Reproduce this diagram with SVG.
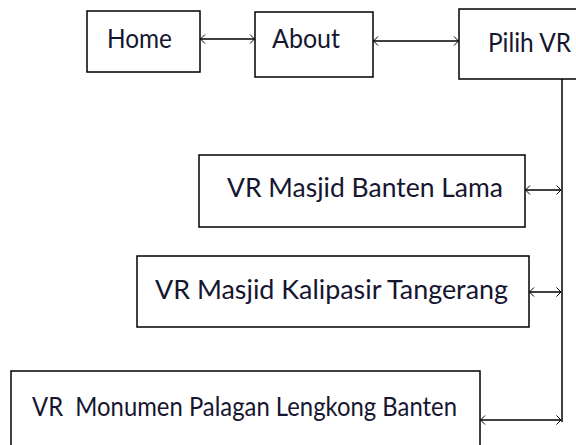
<svg xmlns="http://www.w3.org/2000/svg" width="576" height="445" viewBox="0 0 576 445">
<style>
.box{fill:#fff;stroke:#000;stroke-width:1.5}
.t{font-family:Lato,"Open Sans","Liberation Sans",sans-serif;font-size:27.5px;fill:#161630}
.c{stroke:#000;stroke-width:1.5;fill:none}
</style>
<defs>
<marker id="ah" viewBox="-7 -6 8 12" markerWidth="8" markerHeight="12" refX="0" refY="0" orient="auto-start-reverse" markerUnits="userSpaceOnUse">
<path d="M-4.5,-4.5 L0,0 L-4.5,4.5" fill="none" stroke="#000" stroke-width="1"/>
</marker>
</defs>
<rect width="576" height="445" fill="#fff"/>
<g id="home">
<rect class="box" x="87" y="11" width="113" height="61"/>
<text class="t" x="107" y="48" textLength="65" lengthAdjust="spacingAndGlyphs">Home</text>
</g>
<g id="about">
<rect class="box" x="255" y="12" width="118" height="65"/>
<text class="t" x="272" y="48" textLength="68" lengthAdjust="spacingAndGlyphs">About</text>
</g>
<g id="pilih-vr">
<rect class="box" x="459" y="9" width="125" height="70"/>
<text class="t" x="488" y="52" textLength="83" lengthAdjust="spacingAndGlyphs">Pilih VR</text>
</g>
<g id="vr-banten-lama">
<rect class="box" x="199" y="155" width="326" height="72"/>
<text class="t" x="227" y="197" textLength="276" lengthAdjust="spacingAndGlyphs">VR Masjid Banten Lama</text>
</g>
<g id="vr-kalipasir">
<rect class="box" x="137" y="256" width="392" height="71"/>
<text class="t" x="155" y="299" textLength="353" lengthAdjust="spacingAndGlyphs">VR Masjid Kalipasir Tangerang</text>
</g>
<g id="vr-monumen">
<rect class="box" x="11" y="371" width="469" height="80"/>
<text class="t" x="32" y="416" textLength="425" lengthAdjust="spacingAndGlyphs" xml:space="preserve">VR  Monumen Palagan Lengkong Banten</text>
</g>
<g id="connectors">
<line class="c" x1="200.5" y1="39" x2="254.5" y2="39" marker-start="url(#ah)" marker-end="url(#ah)"/>
<line class="c" x1="373.5" y1="41" x2="458.5" y2="41" marker-start="url(#ah)" marker-end="url(#ah)"/>
<line class="c" x1="562" y1="79" x2="562" y2="422"/>
<line class="c" x1="525.5" y1="190" x2="561" y2="190" marker-start="url(#ah)" marker-end="url(#ah)"/>
<line class="c" x1="529.5" y1="292" x2="561" y2="292" marker-start="url(#ah)" marker-end="url(#ah)"/>
<line class="c" x1="480.5" y1="420" x2="561" y2="420" marker-start="url(#ah)" marker-end="url(#ah)"/>
</g>
</svg>
